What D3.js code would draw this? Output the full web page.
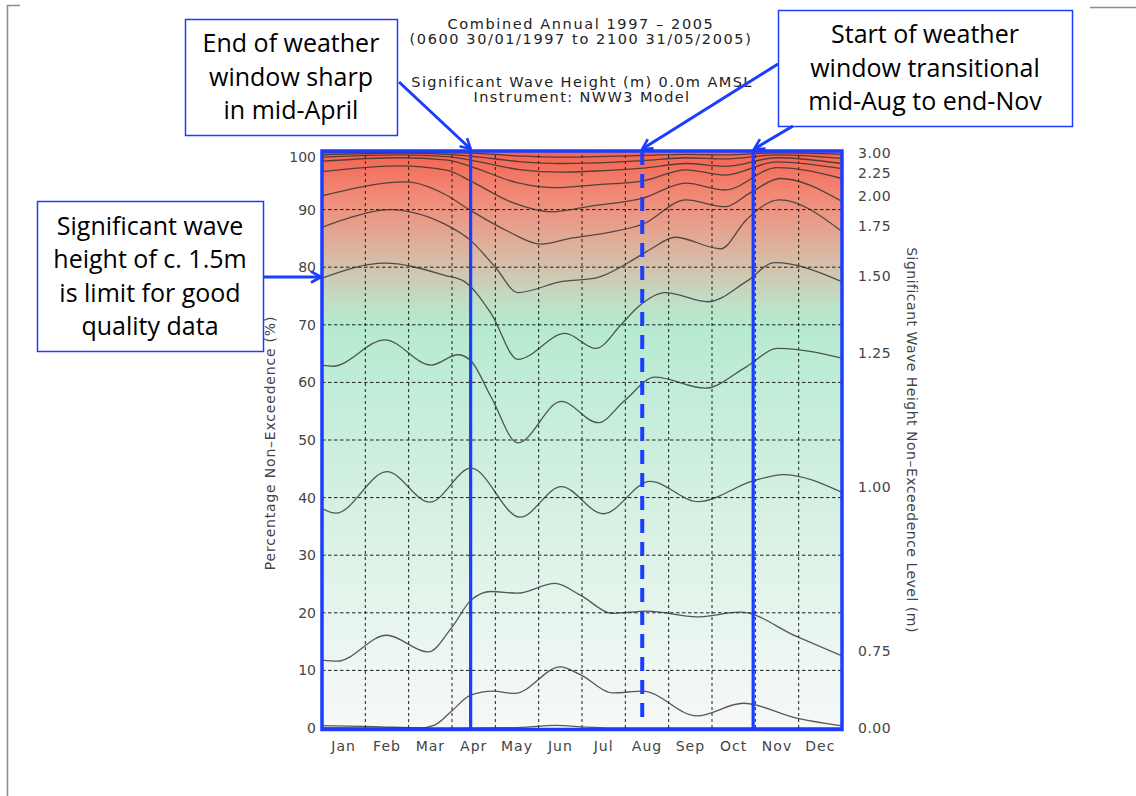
<!DOCTYPE html>
<html><head><meta charset="utf-8">
<script src="https://cdn.jsdelivr.net/npm/d3@7"></script>
<style>body{margin:0;background:#fff;} svg{display:block}</style>
</head><body>
<svg id="chart" width="1136" height="796"></svg>
<script>
// ---------- DATA ----------
const months = ["Jan","Feb","Mar","Apr","May","Jun","Jul","Aug","Sep","Oct","Nov","Dec"];
const leftTicks = [0,10,20,30,40,50,60,70,80,90,100];
const titleLines = ["Combined Annual 1997 \u2013 2005","(0600 30/01/1997 to 2100 31/05/2005)"];
const subtitleLines = ["Significant Wave Height (m) 0.0m AMSL","Instrument: NWW3 Model"];
const leftTitle = "Percentage Non\u2013Exceedence (%)";
const rightTitle = "Significant Wave Height Non\u2013Exceedence Level (m)";

// curves: [month position (0 = start Jan, 12 = end Dec), % non-exceedence]
const lvl000 = [[0,0.05],[3,0.0],[4.4,0.05],[5.4,0.45],[6.1,0.15],[7,0.0],[12,0.0]];
const lvl050 = [[0,0.4],[1.2,0.25],[2.25,0.0],[2.6,0.5],[3.0,3.0],[3.43,5.7],[3.95,6.4],[4.45,6.0],[5.5,10.6],[5.95,9.3],[6.72,6.1],[7.4,6.4],[8.65,2.1],[9.72,4.3],[10.95,1.7],[12,0.35]];
const lvl075 = [[0,11.8],[0.35,11.6],[1.49,16.1],[2.45,13.2],[3.0,17.5],[3.44,22.2],[3.9,23.7],[4.5,23.4],[5.38,25.1],[5.95,23.1],[6.72,19.9],[7.5,20.3],[8.65,19.3],[9.65,20.1],[10.95,15.9],[12,12.5]];
const lvl100 = [[0,38.1],[0.32,37.3],[1.5,44.5],[2.49,39.2],[3.44,45.1],[4.57,36.6],[5.52,41.9],[6.49,37.2],[7.57,42.8],[8.68,39.3],[9.95,42.9],[10.64,44.0],[12,40.9]];
const lvl125 = [[0,63.0],[0.25,62.8],[1.45,67.4],[2.52,63.0],[3.14,64.8],[3.43,63.8],[3.9,57.5],[4.52,49.5],[5.52,56.7],[6.37,53.0],[6.99,56.9],[7.68,60.9],[8.84,59.0],[9.79,62.7],[10.52,65.9],[12,64.2]];
const lvl150 = [[0,78.1],[1.45,80.7],[2.83,78.6],[3.29,77.5],[3.9,72.0],[4.52,64.0],[5.61,68.5],[6.32,65.9],[6.9,70.0],[7.29,73.1],[7.92,75.6],[8.91,74.0],[9.79,77.5],[10.45,80.8],[12,77.5]];
const lvl175 = [[0,86.9],[0.48,88.2],[1.6,90.0],[2.03,89.6],[2.8,87.6],[3.42,84.7],[4.0,80.0],[4.52,75.6],[5.52,77.5],[6.3,78.1],[7.29,81.8],[7.6,83.2],[8.15,85.2],[9.2,83.2],[9.8,88.3],[10.55,91.7],[12,86.2]];
const lvl200 = [[0,92.4],[1.95,94.8],[2.8,92.8],[3.42,89.9],[4.3,86.2],[5.05,84.0],[5.72,85.0],[6.6,86.0],[7.41,87.5],[8.4,91.7],[9.3,90.5],[9.9,93.0],[10.57,95.4],[12,91.4]];
const lvl225 = [[0,96.6],[1.8,97.6],[2.9,96.8],[3.42,95.0],[4.4,91.2],[5.3,89.6],[6.2,90.6],[7.41,92.0],[8.4,94.6],[9.3,93.4],[10.5,97.3],[12,95.4]];
const lvl250 = [[0,98.4],[1.8,99.0],[2.9,98.6],[3.42,97.5],[4.5,94.7],[5.4,93.8],[6.3,94.3],[7.41,95.0],[8.4,96.9],[9.3,96.0],[10.5,98.3],[12,97.1]];
const lvl275 = [[0,99.1],[1.8,99.5],[2.9,99.2],[3.42,98.6],[4.6,96.9],[5.5,96.5],[6.3,96.7],[7.41,97.2],[8.4,98.0],[9.3,97.5],[10.5,99.0],[12,98.0]];
const lvl300 = [[0,99.5],[1.8,99.8],[2.9,99.6],[3.42,99.3],[4.6,98.3],[5.5,98.0],[6.3,98.1],[7.41,98.5],[8.4,99.0],[9.3,98.8],[10.5,99.5],[12,98.9]];
const lvl350 = [[0,99.85],[1.8,99.95],[3.42,99.8],[4.6,99.3],[5.5,99.1],[6.3,99.2],[7.41,99.4],[8.4,99.6],[9.3,99.5],[10.5,99.85],[12,99.6]];

const curveLevels = ["0.00","0.50","0.75","1.00","1.25","1.50","1.75","2.00","2.25","2.50","2.75","3.00","3.50"];
const curveData = [lvl000,lvl050,lvl075,lvl100,lvl125,lvl150,lvl175,lvl200,lvl225,lvl250,lvl275,lvl300,lvl350];
const rightLabelLevels = ["3.00","2.25","2.00","1.75","1.50","1.25","1.00","0.75","0.00"];

// weather-window markers (month position)
const windowMonths = [3.43, 7.39, 9.95];
const windowDashed = [false, true, false];

// background colour ramp by % value
const rampPct = [0, 15, 40, 60, 70, 74, 78, 82, 87, 93, 100];
const rampCol = ["#f7f8f7","#eaf6f0","#d4f0e2","#c0ecd7","#b6eacf","#bfdfc6","#cdcbb4","#d9b8a3","#e6a18d","#f18774","#f46450"];

// annotations
const notes = [
  {lines:["End of weather","window sharp","in mid-April"], box:[185,19,212,116]},
  {lines:["Start of weather","window transitional","mid-Aug to end-Nov"], box:[778,10,294,116]},
  {lines:["Significant wave","height of c. 1.5m","is limit for good","quality data"], box:[37,201,226,150]}
];

// ---------- DRAW ----------
const BLUE = "#1a3dff";
const svg = d3.select("#chart");
const x = d3.scaleLinear().domain([0,12]).range([322,842]);
const y = d3.scaleLinear().domain([0,100]).range([728,152]);
const band = d3.scaleBand().domain(months).range([322,842]);

// page frame
svg.append("path").attr("d","M7.5,796 V5.5 H20").attr("fill","none").attr("stroke","#8c8c8c").attr("stroke-width",1.5);
svg.append("line").attr("x1",1090).attr("x2",1136).attr("y1",7.5).attr("y2",7.5).attr("stroke","#8c8c8c").attr("stroke-width",1.5);

const defs = svg.append("defs");
const grad = defs.append("linearGradient").attr("id","bg").attr("gradientUnits","userSpaceOnUse")
  .attr("x1",0).attr("x2",0).attr("y1",y(0)).attr("y2",y(100));
rampPct.forEach((p,i)=>grad.append("stop").attr("offset",p/100).attr("stop-color",rampCol[i]));
defs.append("clipPath").attr("id","plotclip").append("rect")
  .attr("x",x(0)).attr("y",y(100)).attr("width",x(12)-x(0)).attr("height",y(0)-y(100));
const mk = defs.append("marker").attr("id","arr").attr("viewBox","0 0 14 14").attr("refX",12).attr("refY",7)
  .attr("markerWidth",14).attr("markerHeight",14).attr("markerUnits","userSpaceOnUse").attr("orient","auto");
mk.append("path").attr("d","M2,1.5 L12,7 L2,12.5").attr("fill","none").attr("stroke",BLUE).attr("stroke-width",2.6).attr("stroke-linejoin","miter");

svg.append("rect").attr("x",x(0)).attr("y",y(100)).attr("width",x(12)-x(0)).attr("height",y(0)-y(100)).attr("fill","url(#bg)");

const fontChart = "DejaVu Sans, sans-serif";

// grid
const g = svg.append("g").attr("clip-path","url(#plotclip)");
g.selectAll("line.h").data(leftTicks.filter(d=>d>0&&d<100)).join("line")
  .attr("x1",x(0)).attr("x2",x(12)).attr("y1",d=>y(d)).attr("y2",d=>y(d))
  .attr("stroke","#1e1e1e").attr("stroke-width",1).attr("stroke-dasharray","3.5,2.5");
g.selectAll("line.v").data(d3.range(1,12)).join("line")
  .attr("x1",d=>x(d)).attr("x2",d=>x(d)).attr("y1",y(0)).attr("y2",y(100))
  .attr("stroke","#1e1e1e").attr("stroke-width",1).attr("stroke-dasharray","3,3");

// curves
const line = d3.line().x(d=>x(d[0])).y(d=>y(d[1])).curve(d3.curveMonotoneX);
g.selectAll("path.c").data(curveData).join("path")
  .attr("d",line).attr("fill","none").attr("stroke","#2f2f2f").attr("stroke-opacity",0.8).attr("stroke-width",1.3);

// left axis
const la = svg.append("g").attr("transform",`translate(${x(0)},0)`)
  .call(d3.axisLeft(y).tickValues(leftTicks).tickSize(0).tickPadding(6).tickFormat(d3.format("d")));
la.select(".domain").remove();
la.selectAll("text").attr("font-family",fontChart).attr("font-size",14).attr("fill","#444")
  .attr("dy",d=>d===100?"0.65em":"0.32em");

// bottom axis
const ba = svg.append("g").attr("transform",`translate(0,${y(0)+2})`)
  .call(d3.axisBottom(band).tickSize(0).tickPadding(11));
ba.select(".domain").remove();
ba.selectAll("text").attr("font-family",fontChart).attr("font-size",14).attr("fill","#444").attr("letter-spacing",1);

// right axis labels at curve end values
const endVals = rightLabelLevels.map(l=>curveData[curveLevels.indexOf(l)].slice(-1)[0][1]);
const ra = svg.append("g").attr("transform",`translate(${x(12)},0)`)
  .call(d3.axisRight(y).tickValues(endVals).tickSize(0).tickPadding(16).tickFormat((d,i)=>rightLabelLevels[i]));
ra.select(".domain").remove();
ra.selectAll("text").attr("font-family",fontChart).attr("font-size",14).attr("fill","#444")
  .attr("letter-spacing",0.5).attr("dy",(d,i)=> i===endVals.length-1 ? "0.32em" : "-0.05em");

// axis titles
svg.append("text").attr("transform","translate(275,443) rotate(-90)").attr("text-anchor","middle")
  .attr("font-family",fontChart).attr("font-size",14).attr("letter-spacing",0.8).attr("fill","#444").text(leftTitle);
svg.append("text").attr("transform","translate(907,440) rotate(90)").attr("text-anchor","middle")
  .attr("font-family",fontChart).attr("font-size",14).attr("letter-spacing",0.5).attr("fill","#444").text(rightTitle);

// titles
svg.selectAll("text.t1").data(titleLines).join("text")
  .attr("x",581).attr("y",(d,i)=>29+i*15).attr("text-anchor","middle")
  .attr("font-family",fontChart).attr("font-size",14.5).attr("letter-spacing",1.6).attr("fill","#222").text(d=>d);
svg.selectAll("text.t2").data(subtitleLines).join("text")
  .attr("class","t2").attr("x",582).attr("y",(d,i)=>87+i*14.5).attr("text-anchor","middle")
  .attr("font-family",fontChart).attr("font-size",14.5).attr("letter-spacing",1.4).attr("fill","#222").text(d=>d);

// weather window lines
windowMonths.forEach((m,i)=>{
  svg.append("line").attr("x1",x(m)).attr("x2",x(m))
    .attr("y1",y(100)-1).attr("y2",windowDashed[i]? y(0)-4 : y(0)+1)
    .attr("stroke",BLUE).attr("stroke-width",windowDashed[i]?4:3.2)
    .attr("stroke-dasharray",windowDashed[i]?"14,9":null);
});

// plot frame
svg.append("rect").attr("x",x(0)).attr("y",y(100)-1).attr("width",x(12)-x(0)).attr("height",y(0)-y(100)+2.5)
  .attr("fill","none").attr("stroke",BLUE).attr("stroke-width",3.5);

// annotation boxes
const fontNote = "Open Sans, Lato, sans-serif";
notes.forEach(n=>{
  const [bx,by,bw,bh] = n.box;
  svg.append("rect").attr("x",bx+0.5).attr("y",by+0.5).attr("width",bw).attr("height",bh)
    .attr("fill","#fff").attr("stroke",BLUE).attr("stroke-width",1.5);
  const lh = 33.5;
  const y0 = by + bh/2 - (n.lines.length-1)*lh/2;
  n.lines.forEach((t,j)=>{
    svg.append("text").attr("x",bx+bw/2).attr("y",y0+j*lh).attr("dy","0.35em").attr("text-anchor","middle")
      .attr("font-family",fontNote).attr("font-size",25).attr("fill","#000").text(t);
  });
});

// arrows
const arrows = [
  [[399,82],[x(windowMonths[0]), y(100)-3]],
  [[778,64],[x(windowMonths[1]), y(100)-3]],
  [[793,126],[x(windowMonths[2])+1, y(100)-3]],
  [[263,277],[x(0)-1, y(78.3)]]
];
arrows.forEach(a=>{
  svg.append("line").attr("x1",a[0][0]).attr("y1",a[0][1]).attr("x2",a[1][0]).attr("y2",a[1][1])
    .attr("stroke",BLUE).attr("stroke-width",3).attr("marker-end","url(#arr)");
});
</script>
</body></html>
